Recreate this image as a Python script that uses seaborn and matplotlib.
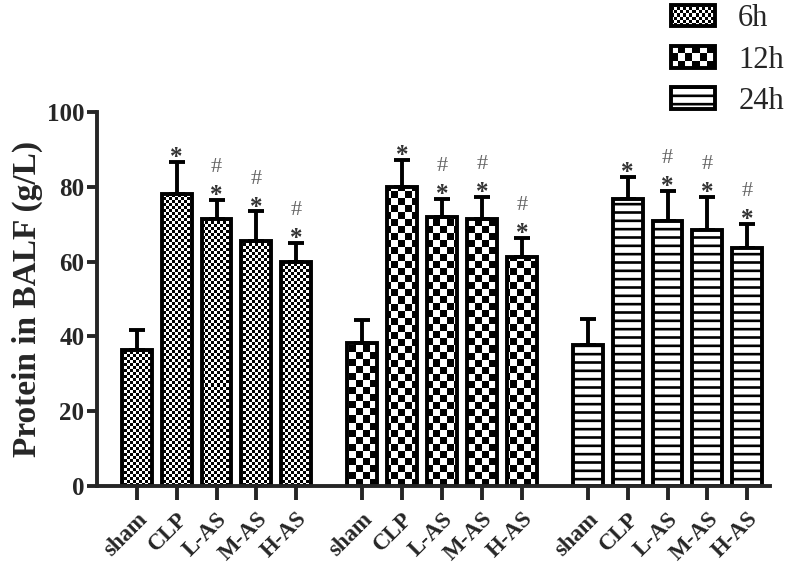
import numpy as np
import pandas as pd
import seaborn as sns
import matplotlib

matplotlib.use("Agg")
import matplotlib.pyplot as plt
from matplotlib.patches import Patch


groups = ["sham", "CLP", "L-AS", "M-AS", "H-AS"]
times = ["6h", "12h", "24h"]

protein_6h = [36.5, 78.0, 71.3, 65.4, 59.9]
protein_12h = [38.2, 80.0, 71.9, 71.4, 61.2]
protein_24h = [37.7, 76.8, 70.9, 68.4, 63.6]

sd_6h = [5.2, 8.6, 5.1, 8.0, 5.1]
sd_12h = [6.2, 7.2, 4.8, 5.9, 5.1]
sd_24h = [7.0, 5.9, 8.0, 8.9, 6.4]

star_marks = ["", "*", "*", "*", "*"]
hash_marks = ["", "", "#", "#", "#"]

GAP = 0.65
LW = 2.8


def checker(w, h, cell):
    yy, xx = np.mgrid[0:h, 0:w]
    return ((xx // cell + yy // cell) % 2).astype(float)


def main():
    sns.set_style("ticks")
    plt.rcParams["font.family"] = ["Liberation Serif", "DejaVu Serif"]
    plt.rcParams["hatch.linewidth"] = 1.9

    rows = []
    for t_i, (t, vals, sds) in enumerate(zip(times, [protein_6h, protein_12h, protein_24h],
                                             [sd_6h, sd_12h, sd_24h])):
        for g_i, g in enumerate(groups):
            rows.append({"time": t, "group": g, "pos": g_i + t_i * (len(groups) + GAP),
                         "protein": vals[g_i], "sd": sds[g_i],
                         "star": star_marks[g_i], "hash": hash_marks[g_i]})
    df = pd.DataFrame(rows)

    fig = plt.figure(figsize=(7.87, 5.70), dpi=100)
    ax = fig.add_axes([0.123, 0.147, 0.855, 0.657])

    bars = {}
    for t in times:
        sub = df[df.time == t]
        n0 = len(ax.patches)
        sns.barplot(data=sub, x="pos", y="protein", native_scale=True, width=0.75,
                    color="white", saturation=1, edgecolor="black", linewidth=LW,
                    errorbar=None, ax=ax)
        bars[t] = ax.patches[n0:]
        ax.errorbar(sub.pos, sub.protein, yerr=[np.zeros(len(sub)), sub.sd], fmt="none",
                    ecolor="black", elinewidth=LW, capsize=5.5, capthick=LW, zorder=0.8)
        for _, r in sub.iterrows():
            top = r.protein + r.sd
            if r.star:
                ax.text(r.pos, top - 0.6, r.star, ha="center", va="baseline",
                        fontsize=18, fontweight="bold", color="#333333")
            if r.hash:
                ax.text(r.pos, top + 7.4, r.hash, ha="center", va="baseline",
                        fontsize=16, color="#666666")

    xmin, xmax = -1.0, df.pos.max() + 0.56
    ax.set_xlim(xmin, xmax)
    ax.set_ylim(0, 100)

    # checker fills for 6h and 12h bars
    W, H = int(round(ax.bbox.width)), int(round(ax.bbox.height))
    for t, cell in [("6h", 3), ("12h", 7)]:
        img = checker(W, H, cell)
        for p in bars[t]:
            p.set_facecolor("none")
            im = ax.imshow(img, cmap="gray_r", extent=(xmin, xmax, 0, 100), origin="lower",
                           aspect="auto", interpolation="nearest", zorder=0.5)
            im.set_clip_path(p)
    for p in bars["24h"]:
        p.set_hatch("--")
    ax.set_xlim(xmin, xmax)
    ax.set_ylim(0, 100)

    ax.set_xticks(df.pos, df.group, rotation=45, ha="right", va="top",
                  rotation_mode="anchor", fontsize=16.5, fontweight="bold")
    ax.set_yticks([0, 20, 40, 60, 80, 100])
    ax.tick_params(axis="y", labelsize=18, width=LW, length=7, pad=2)
    ax.tick_params(axis="x", width=LW, length=10, pad=6)
    for lab in ax.get_yticklabels():
        lab.set_fontweight("bold")
    ax.set_xlabel("")
    ax.set_ylabel("Protein in BALF (g/L)", fontsize=24, fontweight="bold", labelpad=3)
    sns.despine(ax=ax)
    ax.spines["left"].set_linewidth(LW)
    ax.spines["bottom"].set_linewidth(LW)

    handles = [Patch(facecolor="none", edgecolor="black", linewidth=LW, label="6h"),
               Patch(facecolor="none", edgecolor="black", linewidth=LW, label="12h"),
               Patch(facecolor="white", edgecolor="black", linewidth=LW, hatch="--", label="24h")]
    leg = fig.legend(handles=handles, loc="upper right", bbox_to_anchor=(0.998, 0.995),
                     frameon=False, fontsize=22, handlelength=1.45, handleheight=0.7,
                     labelspacing=0.4, handletextpad=0.75, borderaxespad=0, borderpad=0.05)

    fig.canvas.draw()
    inv = fig.transFigure.inverted()
    for p, cell in zip(leg.get_patches()[:2], [3, 7]):
        bb = p.get_window_extent(fig.canvas.get_renderer())
        (x0, y0), (x1, y1) = inv.transform([[bb.x0, bb.y0], [bb.x1, bb.y1]])
        cax = fig.add_axes([x0, y0, x1 - x0, y1 - y0])
        cax.imshow(checker(int(bb.width), int(bb.height), cell), cmap="gray_r",
                   aspect="auto", interpolation="nearest")
        cax.set_axis_off()

    fig.savefig("out.png", dpi=100)
    plt.close(fig)


if __name__ == "__main__":
    main()
